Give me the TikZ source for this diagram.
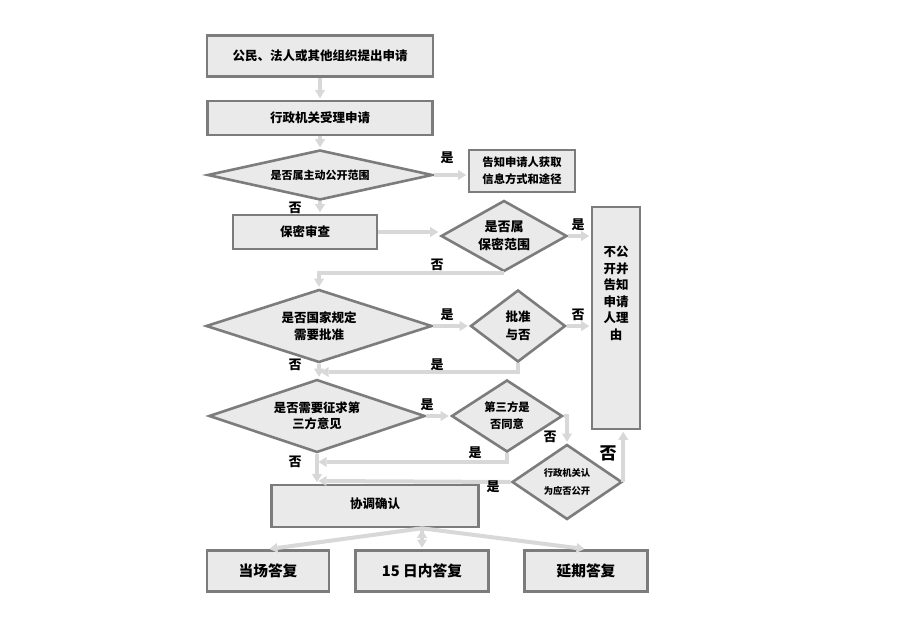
\documentclass[tikz,border=0pt]{standalone}
\usepackage{fontspec}
\setmainfont{Noto Sans CJK SC}
\usetikzlibrary{shapes.geometric, arrows.meta}
\definecolor{boxfill}{HTML}{EAEAEA}
\definecolor{boxline}{HTML}{7C7C7C}
\definecolor{flowgray}{HTML}{D8D8D8}
\tikzset{box node/.style={rectangle,fill=boxfill,draw=boxline,line width=2.6pt,inner sep=0pt,align=center,font=\bfseries\fontsize{12.5}{17}\selectfont}}
\tikzset{test node/.style={diamond,fill=boxfill,draw=boxline,line width=2.6pt,inner sep=0pt,align=center,font=\bfseries\fontsize{12.5}{17}\selectfont}}
\tikzset{flow/.style={draw=flowgray,line width=4pt,shorten >=1.5pt,-{Triangle[length=8pt,width=10pt,line width=0pt,color=flowgray]}}}
\tikzset{answer/.style={inner sep=0pt,font=\bfseries\fontsize{13}{13}\selectfont}}

\begin{document}
\begin{tikzpicture}[x=1pt,y=-1pt]
        \useasboundingbox[fill=white] (0,0) rectangle (905,617);

        \node[box node, minimum width=226pt, minimum height=41pt] (1) at (320,56) {公民、法人或其他组织提出申请};
        \node[box node, minimum width=225pt, minimum height=34pt] (2) at (320,118) {行政机关受理申请};
        \node[test node, aspect=4.5, minimum width=225pt, minimum height=50pt, font=\bfseries\fontsize{11}{14}\selectfont] (3) at (320,175) {是否属主动公开范围};
        \node[box node, minimum width=106pt, minimum height=42pt, font=\bfseries\fontsize{11.3}{17}\selectfont] (4) at (522,171) {告知申请人获取\\信息方式和途径};
        \node[box node, minimum width=144pt, minimum height=34pt] (5) at (305,232) {保密审查};
        \node[test node, aspect=1.7, minimum width=126pt, minimum height=71pt, font=\bfseries\fontsize{13}{18}\selectfont] (6) at (504,236) {是否属\\保密范围};
        \node[box node, minimum width=48pt, minimum height=222pt,
              label={[inner sep=0pt, anchor=north, yshift=-40pt, align=center, font=\bfseries\fontsize{12.5}{16.6}\selectfont]north:{不公\\开并\\告知\\申请\\人理\\由}}] (7) at (616,318) {};
        \node[test node, aspect=3, minimum width=226pt, minimum height=73pt] (8) at (319,326) {是否国家规定\\需要批准};
        \node[test node, aspect=1.3, minimum width=95pt, minimum height=72pt, font=\bfseries\fontsize{12.5}{18}\selectfont] (9) at (518,326) {批准\\与否};
        \node[test node, aspect=3, minimum width=216pt, minimum height=73pt, font=\bfseries\fontsize{12.3}{16.5}\selectfont] (10) at (317,416) {是否需要征求第\\三方意见};
        \node[test node, aspect=1.5, minimum width=111pt, minimum height=72pt, font=\bfseries\fontsize{11.3}{17}\selectfont] (11) at (507,416) {第三方是\\否同意};
        \node[test node, aspect=1.5, minimum width=110pt, minimum height=75pt, font=\bfseries\fontsize{9.3}{18}\selectfont] (12) at (567,482) {行政机关认\\为应否公开};
        \node[box node, minimum width=207pt, minimum height=42pt] (13) at (375,506) {\raisebox{6pt}{协调确认}};
        \node[box node, minimum width=122pt, minimum height=41pt, font=\bfseries\fontsize{14.7}{17}\selectfont] (14) at (268,571) {当场答复};
        \node[box node, minimum width=133pt, minimum height=41pt, font=\bfseries\fontsize{14.7}{17}\selectfont] (15) at (422,571) {15 日内答复};
        \node[box node, minimum width=123pt, minimum height=41pt, font=\bfseries\fontsize{14.7}{17}\selectfont] (16) at (586,571) {延期答复};

        % meeting points on the left trunk
        \coordinate (m1) at (319,372);
        \coordinate (m2) at (317,462);
        \coordinate (m3) at (317,481);

        \path[flow]
        (1) edge (2)
        (2) edge (3)
        (3.east) edge (3.east -| 4.west)
        (3.south) edge (3.south |- 5.north)
        (5.east) edge (5.east -| 6.west)
        (6.east) edge (6.east -| 7.west)
        (8.east) edge (9.west)
        (9.east) edge (9.east -| 7.west)
        (8.south) edge (8.south |- 10.north)
        (10.east) edge (10.east -| 11.west)
        (12.west) edge (m3)
        (10.south) edge (10.south |- 13.north)
        (13.south -| 15.north) edge (14.north)
        (13.south -| 15.north) edge (15.north)
        (13.south -| 15.north) edge (16.north);
        \draw[flow] (6.south) -| (8.north);
        \draw[flow] (9.south) |- (m1);
        \draw[flow] (11.east) -| (12.north);
        \draw[flow] (11.south) |- (m2);
        \draw[flow] (12.east) -- (7.south -| 12.east);

        % yes / no
        \node[answer] (a1) at (447,158) {是};
        \node[answer] (a2) at (295,208) {否};
        \node[answer] (a3) at (578,225) {是};
        \node[answer] (a4) at (437,265) {否};
        \node[answer] (a5) at (447,315) {是};
        \node[answer] (a6) at (578,315) {否};
        \node[answer] (a7) at (437,365) {是};
        \node[answer] (a8) at (295,365) {否};
        \node[answer] (a9) at (427,405) {是};
        \node[answer] (a10) at (550,437) {否};
        \node[answer] (a11) at (475,453) {是};
        \node[answer] (a12) at (295,462) {否};
        \node[answer] (a13) at (493,487) {是};
        \node[answer, font=\bfseries\fontsize{17}{17}\selectfont] (a14) at (608,453) {否};
    \end{tikzpicture}
\end{document}
